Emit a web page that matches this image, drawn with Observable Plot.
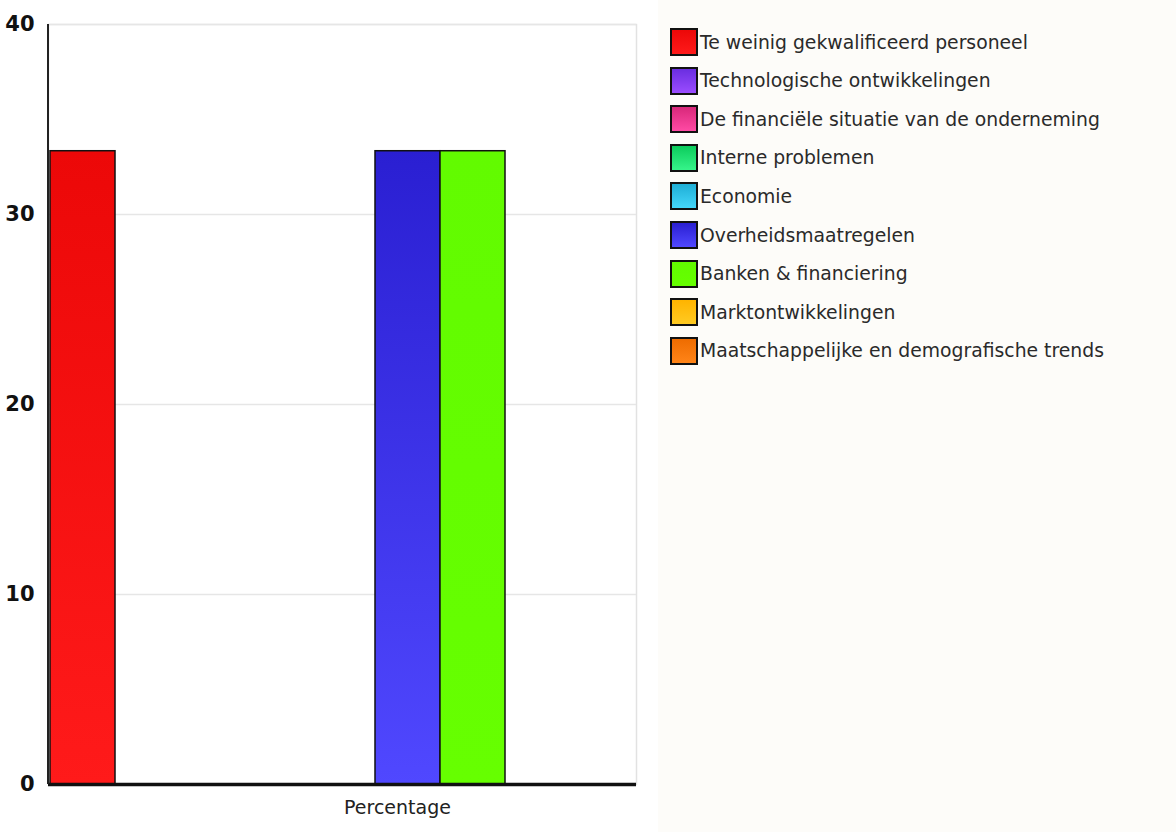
<!DOCTYPE html>
<html><head><meta charset="utf-8">
<script src="https://cdn.jsdelivr.net/npm/d3@7"></script>
<script src="https://cdn.jsdelivr.net/npm/@observablehq/plot@0.6"></script>
<style>
body{margin:0;background:#fff;width:1176px;height:832px;overflow:hidden;position:relative;font-family:"DejaVu Sans",sans-serif;}
#chart{position:absolute;left:0;top:0;}
#legend{position:absolute;left:658px;top:0;width:518px;height:832px;background:#fdfcf9;}
.item{position:absolute;left:12px;height:28px;display:flex;align-items:center;}
.sw{width:24px;height:24px;border:2px solid #111;box-sizing:content-box;margin-right:2px;}
.lb{font-size:18.8px;color:#2a2a2a;white-space:nowrap;}
</style></head>
<body>
<div id="chart"></div>
<div id="legend"></div>
<script>
const categories = ["Te weinig gekwalificeerd personeel","Technologische ontwikkelingen","De financiële situatie van de onderneming","Interne problemen","Economie","Overheidsmaatregelen","Banken & financiering","Marktontwikkelingen","Maatschappelijke en demografische trends"];
const values = [33.33, 0, 0, 0, 0, 33.33, 33.33, 0, 0];
const group = "Percentage";
const yTicks = [0, 10, 20, 30, 40];
const colorTop = ["#ec0808","#6a2ee0","#d8287a","#0ccc5c","#1eaed6","#2a1fd2","#62fb00","#ffb400","#ee6c00"];
const colorBottom = ["#ff1a1a","#9a4cff","#ff4aa4","#36f48a","#44d6fa","#5048ff","#66ff00","#ffca22","#ff8418"];

const data = categories.map((c, i) => ({cat: c, value: values[i], group}));
const urls = categories.map((c, i) => `url(#g${i})`);

const svg = Plot.plot({
  width: 658, height: 832,
  marginTop: 24, marginBottom: 48, marginLeft: 48, marginRight: 22,
  style: {background: "transparent", overflow: "visible"},
  fx: {domain: [group], padding: 0, label: null, axis: null},
  x: {domain: categories, padding: 0, axis: null},
  y: {domain: [0, 40], label: null},
  color: {type: "ordinal", domain: categories, range: urls},
  marks: [
    Plot.frame({stroke: "#e2e2e2", strokeWidth: 1.5}),
    Plot.ruleY(yTicks.filter(d => d > 0), {stroke: "#e6e6e6", strokeWidth: 1.5}),
    Plot.barY(data, {fx: "group", x: "cat", y: "value", fill: "cat", stroke: "#111", strokeWidth: 1.5}),
    Plot.ruleY([0], {stroke: "#111", strokeWidth: 3.5}),
    Plot.axisY({ticks: yTicks, tickSize: 0, tickPadding: 14, label: null, fontSize: 21, fontWeight: "bold", fill: "#111"}),
    Plot.axisFx({anchor: "bottom", domain: [group], tickSize: 0, tickPadding: 16, label: null, fontSize: 19, fill: "#222", dx: 55}),
  ]
});

const root = d3.select(svg);
// gradients
const defs = root.insert("defs", ":first-child");
categories.forEach((c, i) => {
  const g = defs.append("linearGradient").attr("id", `g${i}`).attr("x1", 0).attr("y1", 0).attr("x2", 0).attr("y2", 1);
  g.append("stop").attr("offset", "0%").attr("stop-color", colorTop[i]);
  g.append("stop").attr("offset", "100%").attr("stop-color", colorBottom[i]);
});
// y axis line from the y scale
const ys = svg.scale("y");
root.append("line").attr("x1", 48).attr("x2", 48).attr("y1", ys.apply(40)).attr("y2", ys.apply(0)).attr("stroke", "#222").attr("stroke-width", 2);
root.selectAll("text").style("font-family", "'DejaVu Sans', sans-serif");
document.getElementById("chart").appendChild(svg);

// legend
const leg = document.getElementById("legend");
categories.forEach((c, i) => {
  const it = document.createElement("div");
  it.className = "item";
  it.style.top = (28 + i * 38.6) + "px";
  it.innerHTML = `<div class="sw" style="background:linear-gradient(${colorTop[i]},${colorBottom[i]})"></div><span class="lb"></span>`;
  it.querySelector(".lb").textContent = c;
  leg.appendChild(it);
});
</script>
</body></html>
